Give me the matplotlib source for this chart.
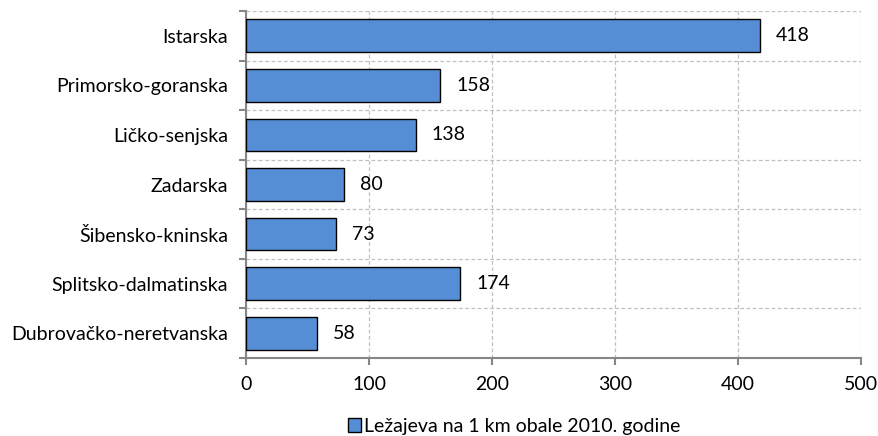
import matplotlib
matplotlib.use("Agg")
import matplotlib.pyplot as plt
from matplotlib.patches import Patch

categories = ["Istarska", "Primorsko-goranska", "Ličko-senjska", "Zadarska",
              "Šibensko-kninska", "Splitsko-dalmatinska", "Dubrovačko-neretvanska"]
values = [418, 158, 138, 80, 73, 174, 58]
xticks = [0, 100, 200, 300, 400, 500]
legend_label = "Ležajeva na 1 km obale 2010. godine"

plt.rcParams['font.family'] = ['Lato', 'DejaVu Sans']
FS = 14

fig = plt.figure(figsize=(8.79, 4.36), dpi=100)
ax = fig.add_axes([246/879, 1-358/436, (861-246)/879, (358-11)/436])

n = len(categories)
ypos = list(range(n))
ax.barh(ypos, values, height=0.66, color="#558ED5", edgecolor="black", linewidth=1.0, zorder=3)
ax.set_ylim(n - 0.5, -0.5)
ax.set_xlim(0, 500)
ax.set_yticks(ypos)
ax.set_yticklabels(categories, fontsize=FS)
ax.set_xticks(xticks)
ax.set_xticklabels([str(t) for t in xticks], fontsize=FS)

for y, v in zip(ypos, values):
    ax.annotate(str(v), (v, y), xytext=(11.5, 0), textcoords="offset points",
                va="center", ha="left", fontsize=FS)

# gridlines
ax.set_axisbelow(True)
ax.xaxis.grid(True, linestyle=(0, (3, 2)), color="#C0C0C0", linewidth=0.9)
for b in [i - 0.5 for i in range(n)]:
    ax.axhline(b, color="#C0C0C0", linestyle=(0, (3, 2)), linewidth=0.9, zorder=0)

# y-axis: tick marks at category boundaries
ax.tick_params(axis="y", which="major", length=0, pad=13)
ax.set_yticks([i - 0.5 for i in range(n + 1)], minor=True)
ax.tick_params(axis="y", which="minor", length=5, width=1.5, color="#868686", direction="out")
ax.tick_params(axis="x", which="major", length=5, width=1.5, color="#868686", direction="out", pad=8)

for s in ["top", "right"]:
    ax.spines[s].set_visible(False)
for s in ["left", "bottom"]:
    ax.spines[s].set_color("#868686")
    ax.spines[s].set_linewidth(1.5)

handle = Patch(facecolor="#558ED5", edgecolor="black", linewidth=1.0)
fig.legend([handle], [legend_label], loc="center", bbox_to_anchor=(514/879, 1-426/436),
           frameon=False, fontsize=FS, handlelength=0.7, handleheight=0.7, handletextpad=0.15)

fig.savefig("out.png", dpi=100)
